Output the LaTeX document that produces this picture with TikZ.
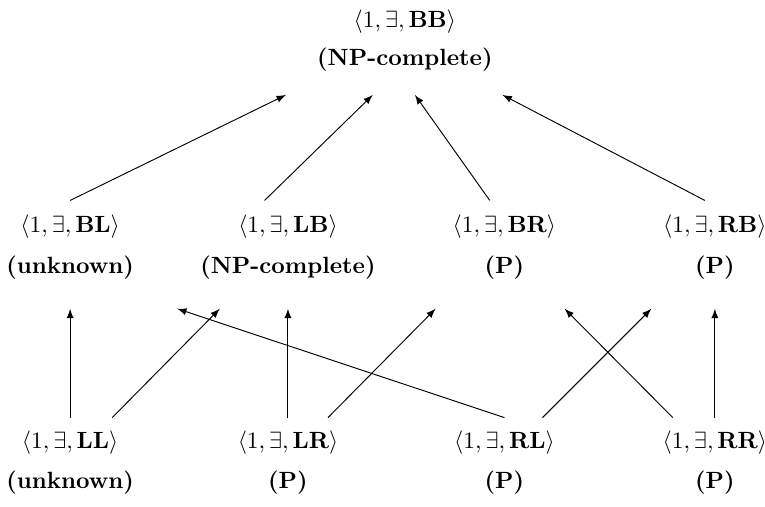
\documentclass[tikz,border=0pt]{standalone}
\usepackage{amssymb,amsmath}
\usepackage{tikz}
\usetikzlibrary{%
  arrows,%
  positioning,%
  calc%
}

\begin{document}
\begin{tikzpicture}[status/.style={font=\bfseries}, arr/.style={-latex}]
\useasboundingbox (0,0) rectangle (11.45,7.58);
% top
\node (bb) at (6.06,7.26) {$\langle 1,\exists,\mathbf{BB}\rangle$};
\node[status] (bbs) at (6.06,6.69) {(NP-complete)};
% middle row
\node (bl) at (1.05,4.19) {$\langle 1,\exists,\mathbf{BL}\rangle$};
\node[status] (bls) at (1.05,3.57) {(unknown)};
\node (lb) at (4.31,4.19) {$\langle 1,\exists,\mathbf{LB}\rangle$};
\node[status] (lbs) at (4.31,3.57) {(NP-complete)};
\node (br) at (7.55,4.19) {$\langle 1,\exists,\mathbf{BR}\rangle$};
\node[status] (brs) at (7.55,3.57) {(P)};
\node (rb) at (10.70,4.19) {$\langle 1,\exists,\mathbf{RB}\rangle$};
\node[status] (rbs) at (10.70,3.57) {(P)};
% bottom row
\node (ll) at (1.05,0.95) {$\langle 1,\exists,\mathbf{LL}\rangle$};
\node[status] (lls) at (1.05,0.35) {(unknown)};
\node (lr) at (4.31,0.95) {$\langle 1,\exists,\mathbf{LR}\rangle$};
\node[status] (lrs) at (4.31,0.35) {(P)};
\node (rl) at (7.55,0.95) {$\langle 1,\exists,\mathbf{RL}\rangle$};
\node[status] (rls) at (7.55,0.35) {(P)};
\node (rr) at (10.70,0.95) {$\langle 1,\exists,\mathbf{RR}\rangle$};
\node[status] (rrs) at (10.70,0.35) {(P)};

% middle -> top
\draw[arr] ($(bl)+(0,0.39)$) -- ($(bbs)+(-1.78,-0.53)$);
\draw[arr] ($(lb)+(-0.35,0.39)$) -- ($(bbs)+(-0.48,-0.53)$);
\draw[arr] ($(br)+(-0.22,0.39)$) -- ($(bbs)+(0.15,-0.53)$);
\draw[arr] ($(rb)+(-0.15,0.39)$) -- ($(bbs)+(1.46,-0.53)$);

% bottom -> middle
\draw[arr] ($(ll)+(0,0.38)$) -- ($(bls)+(0,-0.61)$);
\draw[arr] ($(ll)+(0.63,0.38)$) -- ($(lbs)+(-1.02,-0.61)$);
\draw[arr] ($(lr)+(0,0.38)$) -- ($(lbs)+(0,-0.61)$);
\draw[arr] ($(lr)+(0.60,0.38)$) -- ($(brs)+(-1.03,-0.61)$);
\draw[arr] ($(rl)+(0,0.38)$) -- ($(bls)+(1.60,-0.61)$);
\draw[arr] ($(rl)+(0.57,0.38)$) -- ($(rbs)+(-0.95,-0.61)$);
\draw[arr] ($(rr)+(-0.63,0.38)$) -- ($(brs)+(0.90,-0.61)$);
\draw[arr] ($(rr)+(0,0.38)$) -- ($(rbs)+(0,-0.61)$);
\end{tikzpicture}
\end{document}
